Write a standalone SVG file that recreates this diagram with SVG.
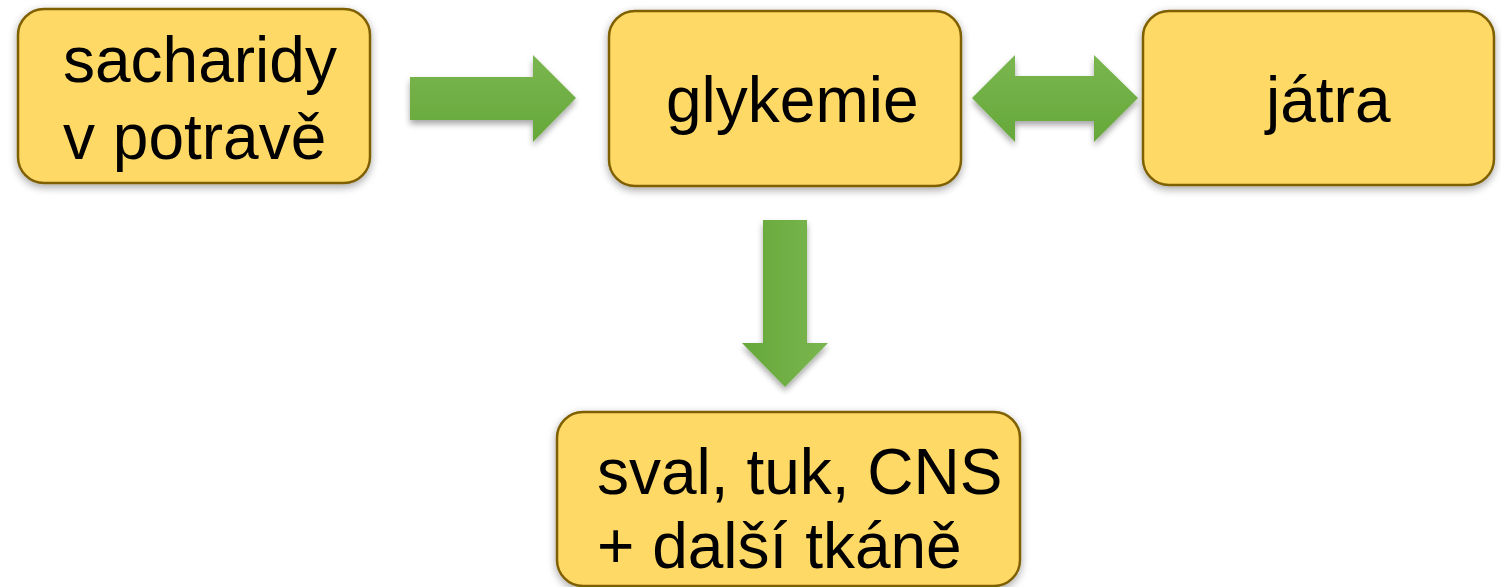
<svg xmlns="http://www.w3.org/2000/svg" width="1501" height="587" viewBox="0 0 1501 587">
<style>
.box{fill:#FFD966;stroke:#7F6000;stroke-width:2.5;filter:url(#sh)}
.t{font-family:"Liberation Sans",Arial,sans-serif;font-size:64px;fill:#000}
.arr{filter:url(#sh2)}
</style>
<defs>
<filter id="sh" x="-10%" y="-10%" width="120%" height="130%">
<feGaussianBlur in="SourceAlpha" stdDeviation="4"/>
<feOffset dx="0" dy="3" result="b"/>
<feComponentTransfer><feFuncA type="linear" slope="0.35"/></feComponentTransfer>
<feMerge><feMergeNode/><feMergeNode in="SourceGraphic"/></feMerge>
</filter>
<filter id="sh2" x="-20%" y="-20%" width="140%" height="150%">
<feGaussianBlur in="SourceAlpha" stdDeviation="3"/>
<feOffset dx="0" dy="4" result="b"/>
<feComponentTransfer><feFuncA type="linear" slope="0.35"/></feComponentTransfer>
<feMerge><feMergeNode/><feMergeNode in="SourceGraphic"/></feMerge>
</filter>
<linearGradient id="gv" x1="0" y1="0" x2="0" y2="1">
<stop offset="0" stop-color="#7AB64F"/>
<stop offset="1" stop-color="#66A83A"/>
</linearGradient>
<linearGradient id="gh" x1="0" y1="0" x2="1" y2="0">
<stop offset="0" stop-color="#66A83A"/>
<stop offset="1" stop-color="#7AB64F"/>
</linearGradient>
</defs>
<g id="connectors">
<polygon class="arr" fill="url(#gv)" points="410,77 533,77 533,55 576,98 533,142 533,120 410,120"/>
<polygon class="arr" fill="url(#gv)" points="972,98 1015,55 1015,76 1094,76 1094,55 1138,98 1094,142 1094,121 1015,121 1015,142"/>
<polygon class="arr" fill="url(#gh)" points="763,220 807,220 807,343 828,343 785,387 742,343 763,343"/>
</g>
<g id="n1">
<rect class="box" x="18" y="9" width="352" height="174" rx="26"/>
<text class="t" x="63" y="82">sacharidy</text>
<text class="t" x="63" y="159">v potravě</text>
</g>
<g id="n2">
<rect class="box" x="609" y="11" width="352" height="175" rx="26"/>
<text class="t" x="666" y="122">glykemie</text>
</g>
<g id="n3">
<rect class="box" x="1143" y="11" width="351" height="174" rx="26"/>
<text class="t" x="1266" y="122">játra</text>
</g>
<g id="n4">
<rect class="box" x="557" y="412" width="463" height="174" rx="26"/>
<text class="t" x="597" y="494">sval, tuk, CNS</text>
<text class="t" x="597" y="568">+ další tkáně</text>
</g>
</svg>
